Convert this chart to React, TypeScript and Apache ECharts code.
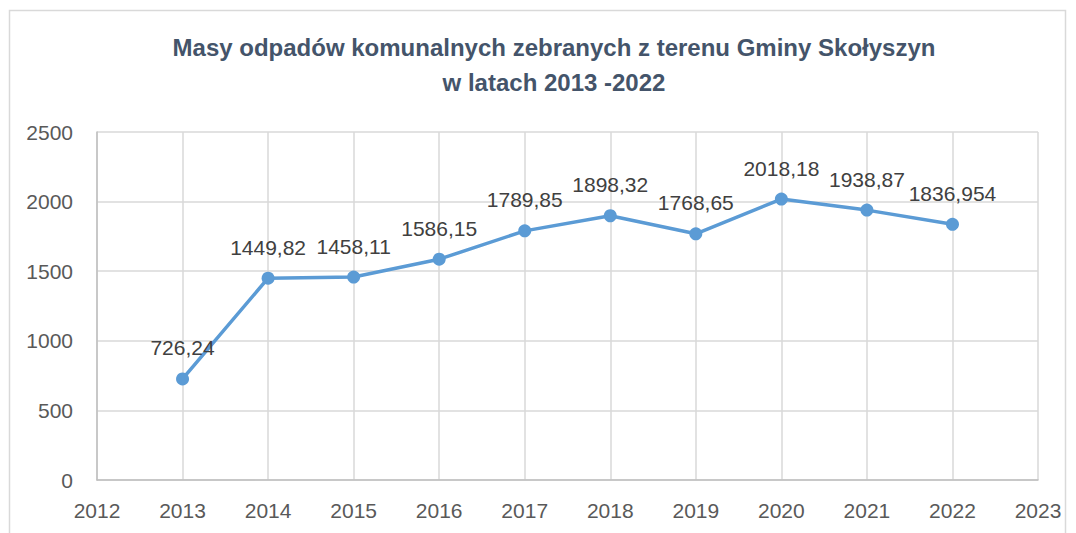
import React, { useEffect, useRef } from "react";
import * as echarts from "echarts";

const years = [2013, 2014, 2015, 2016, 2017, 2018, 2019, 2020, 2021, 2022];
const values = [726.24, 1449.82, 1458.11, 1586.15, 1789.85, 1898.32, 1768.65, 2018.18, 1938.87, 1836.954];
const labels = ["726,24", "1449,82", "1458,11", "1586,15", "1789,85", "1898,32", "1768,65", "2018,18", "1938,87", "1836,954"];
const titleText = "Masy odpadów komunalnych zebranych z terenu Gminy Skołyszyn\nw latach 2013 -2022";

const FONT = "'Liberation Sans', Arial, sans-serif";

export default function App() {
  const ref = useRef<HTMLDivElement>(null);
  useEffect(() => {
    const chart = echarts.init(ref.current!, null, { renderer: "svg" });
    chart.setOption({
      animation: false,
      backgroundColor: "#ffffff",
      title: {
        text: titleText,
        left: 549,
        top: 25,
        textAlign: "center",
        textStyle: {
          fontFamily: FONT,
          fontWeight: "bold",
          fontSize: 24,
          color: "#44546a",
          lineHeight: 35,
        },
      },
      graphic: [
        {
          type: "rect",
          shape: { x: 9.5, y: 10.5, width: 1056, height: 540 },
          style: { fill: "none", stroke: "#d9d9d9", lineWidth: 1.5 },
          silent: true,
        },
      ],
      grid: { left: 97, right: 38, top: 132, bottom: 53 },
      xAxis: {
        type: "value",
        min: 2012,
        max: 2023,
        interval: 1,
        axisLine: { show: true, lineStyle: { color: "#bfbfbf", width: 1.5 } },
        axisTick: { show: false },
        splitLine: { show: true, lineStyle: { color: "#d9d9d9", width: 1.5 } },
        axisLabel: {
          fontFamily: FONT,
          fontSize: 21,
          color: "#595959",
          margin: 20,
          formatter: (v: number) => String(v),
        },
      },
      yAxis: {
        type: "value",
        min: 0,
        max: 2500,
        interval: 500,
        axisLine: { show: true, lineStyle: { color: "#bfbfbf", width: 1.5 } },
        axisTick: { show: false },
        splitLine: { show: true, lineStyle: { color: "#d9d9d9", width: 1.5 } },
        axisLabel: {
          fontFamily: FONT,
          fontSize: 21,
          color: "#595959",
          margin: 24,
          formatter: (v: number) => String(v),
        },
      },
      series: [
        {
          type: "line",
          data: years.map((y, i) => [y, values[i]]),
          symbol: "circle",
          symbolSize: 13,
          lineStyle: { color: "#5b9bd5", width: 3.5 },
          itemStyle: { color: "#5b9bd5" },
          label: {
            show: true,
            position: "top",
            distance: 14,
            fontFamily: FONT,
            fontSize: 21,
            color: "#404040",
            formatter: (p: any) => labels[p.dataIndex],
          },
        },
      ],
    });
    return () => chart.dispose();
  }, []);
  return (
    <div
      ref={ref}
      style={{ position: "absolute", left: 0, top: 0, width: 1076, height: 533 }}
    />
  );
}
